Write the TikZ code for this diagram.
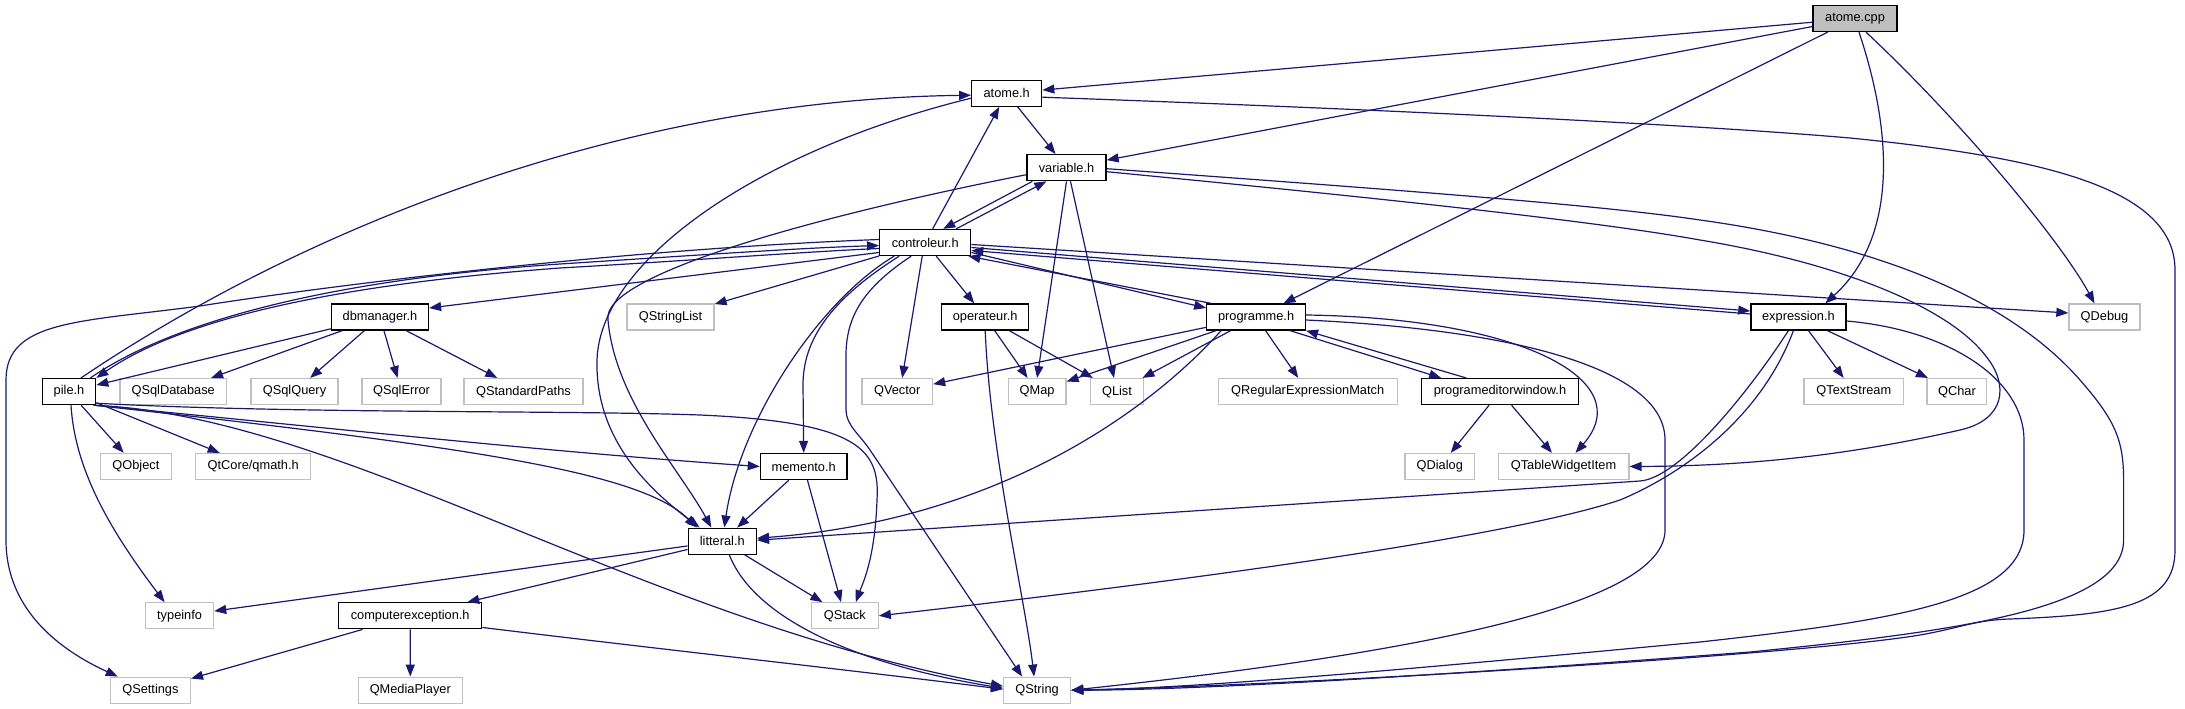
\documentclass[tikz,border=0pt]{standalone}
\usepackage{fontspec}
\setmainfont{Liberation Sans}
\usetikzlibrary{arrows.meta,calc}
\definecolor{edgec}{HTML}{191970}
\definecolor{greyA}{HTML}{BFBFBF}
\begin{document}
\begin{tikzpicture}[x=1pt,y=-1pt,
  box/.style={rectangle, inner sep=0pt, minimum height=26pt, font=\fontsize{12.8}{15}\selectfont, text=black},
  hdr/.style={box, draw=black, fill=white, line width=1.3pt},
  ext/.style={box, draw=greyA, fill=white, line width=1.3pt},
  rootnode/.style={box, draw=black, fill=greyA, line width=1.3pt},
  dep/.style={draw=edgec, line width=1.2pt, -{Triangle[length=12pt,width=9pt]}}
]
\fill[white] (0,0) rectangle (2185,709);
\useasboundingbox (0,0) rectangle (2185,709);

% nodes
\node[rootnode, minimum width=84pt] (cpp) at (1855,18.5) {atome.cpp};
\node[hdr, minimum width=70pt] (atomeh) at (1006.7,93.2) {atome.h};
\node[hdr, minimum width=79pt] (var) at (1066.5,167.7) {variable.h};
\node[hdr, minimum width=91pt] (ctrl) at (925.2,242.5) {controleur.h};
\node[hdr, minimum width=97pt] (db) at (380,317) {dbmanager.h};
\node[ext, minimum width=87pt] (qsl) at (670.5,317) {QStringList};
\node[hdr, minimum width=87pt] (op) at (985.2,317) {operateur.h};
\node[hdr, minimum width=98.6pt] (prog) at (1256.1,317) {programme.h};
\node[hdr, minimum width=95pt] (expr) at (1798.4,317) {expression.h};
\node[ext, minimum width=71pt] (qdebug) at (2104.5,317) {QDebug};
\node[hdr, minimum width=53.4pt] (pile) at (69,391.6) {pile.h};
\node[ext, minimum width=106.5pt] (qsqldb) at (173.2,391.6) {QSqlDatabase};
\node[ext, minimum width=87pt] (qsqlq) at (294.5,391.6) {QSqlQuery};
\node[ext, minimum width=79pt] (qsqle) at (401.5,391.6) {QSqlError};
\node[ext, minimum width=119pt] (qsp) at (523.5,391.6) {QStandardPaths};
\node[ext, minimum width=70.7pt] (qvec) at (897.2,391.6) {QVector};
\node[ext, minimum width=57.8pt] (qmap) at (1037.1,391.6) {QMap};
\node[ext, minimum width=53.2pt] (qlist) at (1117,391.6) {QList};
\node[ext, minimum width=179pt] (qrem) at (1307.7,391.6) {QRegularExpressionMatch};
\node[hdr, minimum width=156.4pt] (pew) at (1500,391.6) {programeditorwindow.h};
\node[ext, minimum width=99.6pt] (qts) at (1853.8,391.6) {QTextStream};
\node[ext, minimum width=59.8pt] (qchar) at (1956.9,391.6) {QChar};
\node[ext, minimum width=71pt] (qobj) at (135.9,466.5) {QObject};
\node[ext, minimum width=115pt] (qmath) at (253.2,466.5) {QtCore/qmath.h};
\node[hdr, minimum width=86.7pt] (mem) at (803.7,466.5) {memento.h};
\node[ext, minimum width=69.6pt] (qdlg) at (1439.8,466.5) {QDialog};
\node[ext, minimum width=130.7pt] (qtwi) at (1563.5,466.5) {QTableWidgetItem};
\node[hdr, minimum width=68.2pt] (lit) at (722.3,541.2) {litteral.h};
\node[ext, minimum width=68pt] (tinfo) at (179.6,615.8) {typeinfo};
\node[hdr, minimum width=143pt] (cex) at (410.2,615.8) {computerexception.h};
\node[ext, minimum width=66.8pt] (qstack) at (844.8,615.8) {QStack};
\node[ext, minimum width=80pt] (qset) at (150.4,690.2) {QSettings};
\node[ext, minimum width=104pt] (qmp) at (410.3,690.2) {QMediaPlayer};
\node[ext, minimum width=67pt] (qstr) at (1037.1,690.2) {QString};

% atome.cpp
\draw[dep] (cpp) -- (atomeh);
\draw[dep] (cpp) -- (var);
\draw[dep] (cpp) -- (prog);
\draw[dep] ($(cpp.south)+(4,0)$) .. controls (1895,140) and (1895,240) .. ($(expr.north)+(27,0)$);
\draw[dep] ($(cpp.south)+(11,0)$) .. controls (1960,120) and (2060,240) .. ($(qdebug.north)+(-10,0)$);

% atome.h
\draw[dep] (atomeh) -- (var);
\draw[dep] ($(atomeh.east)+(0,4)$) .. controls (1400,110) and (1700,125) .. (1850,138) .. controls (2050,158) and (2175,190) .. (2175,270) -- (2175,550) .. controls (2175,605) and (2120,615) .. (2010,619) .. controls (1975,620) and (1960,628) .. (1920,635) .. controls (1800,655) and (1300,685) .. (qstr.east);
\draw[dep] ($(atomeh.west)+(0,5)$) .. controls (760,150) and (600,260) .. (597,360) .. controls (595,440) and (650,490) .. ($(lit.north west)+(12,0)$);

% variable.h
\draw[dep] ($(var.south west)+(6,0)$) -- ($(ctrl.north)+(18,0)$);
\draw[dep] ($(ctrl.north)+(31,0)$) -- ($(var.south west)+(20,0)$);
\draw[dep] (var.south) -- (qmap.north);
\draw[dep] ($(var.south)+(4,0)$) -- ($(qlist.north)+(-3,0)$);
\draw[dep] ($(var.west)+(0,7)$) .. controls (820,215) and (600,275) .. (608,320) .. controls (615,400) and (680,470) .. ($(lit.north)+(-11,0)$);
\draw[dep] ($(var.east)+(0,4)$) .. controls (1400,200) and (1600,222) .. (1700,240) .. controls (1850,265) and (1950,310) .. (1985,355) .. controls (2010,385) and (2005,420) .. (1960,430) .. controls (1850,455) and (1750,466) .. (qtwi.east);
\draw[dep] ($(var.east)+(0,1)$) .. controls (1400,190) and (1600,205) .. (1700,220) .. controls (1880,245) and (2010,300) .. (2080,380) .. controls (2115,420) and (2123.6,440) .. (2123.6,480) -- (2123.6,540) .. controls (2123.6,610) and (1950,632) .. (1750,652) .. controls (1450,675) and (1200,690) .. (qstr.east);

% controleur.h
\draw[dep] (ctrl) -- (atomeh);
\draw[dep] (ctrl) -- (qsl);
\draw[dep] (ctrl) -- (op);
\draw[dep] ($(ctrl.south)+(-3,0)$) -- ($(qvec.north)+(5,0)$);
\draw[dep] ($(ctrl.south)+(-26,0)$) .. controls (830,300) and (803,340) .. (803,385) -- (mem.north);
\draw[dep] ($(ctrl.south)+(-31,0)$) .. controls (820,300) and (740,420) .. ($(lit.north)+(2,0)$);
\draw[dep] ($(ctrl.south)+(-14,0)$) .. controls (860,290) and (845,320) .. (846,360) -- (846,410) .. controls (846,425) and (860,435) .. (870,450) -- ($(qstr.north)+(-15,0)$);
\draw[dep] ($(ctrl.west)+(0,-3)$) .. controls (600,250) and (300,290) .. (200,306) .. controls (80,322) and (6,320) .. (6,380) -- (6,540) .. controls (6,610) and (60,650) .. ($(qset.north west)+(8,0)$);
\draw[dep] ($(pile.north east)+(-6,0)$) .. controls (160,330) and (300,282) .. (560,264) .. controls (700,255) and (800,248) .. ($(ctrl.west)+(0,3)$);
\draw[dep] ($(ctrl.west)+(0,6)$) .. controls (800,252) and (700,260) .. (560,268) .. controls (330,285) and (180,320) .. (pile.north east);
\draw[dep] ($(ctrl.west)+(0,10)$) -- ($(db.east)+(0,-9)$);
\draw[dep] ($(ctrl.east)+(0,2)$) -- ($(qdebug.west)+(0,-4)$);
\draw[dep] ($(ctrl.east)+(0,5)$) -- ($(expr.west)+(0,-6)$);
\draw[dep] ($(expr.west)+(0,-3)$) -- ($(ctrl.east)+(0,8)$);
\draw[dep] ($(ctrl.east)+(0,10)$) -- ($(prog.west)+(0,-9)$);
\draw[dep] ($(prog.north west)+(5,0)$) -- ($(ctrl.south east)+(-3,0)$);

% pile.h
\draw[dep] ($(pile.north)+(12,0)$) .. controls (300,230) and (620,100) .. ($(atomeh.west)+(0,2)$);
\draw[dep] ($(pile.south east)+(-2,0)$) .. controls (450,445) and (640,470) .. ($(lit.north west)+(9,0)$);
\draw[dep] ($(pile.south east)+(-1,0)$) .. controls (350,430) and (550,452) .. (mem.west);
\draw[dep] ($(pile.south east)+(0,-2)$) .. controls (300,414) and (560,410) .. (700,415) .. controls (860,422) and (880,450) .. (877,500) .. controls (875,560) and (862,585) .. ($(qstack.north)+(11,0)$);
\draw[dep] ($(pile.south east)+(-3,0)$) .. controls (340,415) and (640,620) .. ($(qstr.west)+(0,-4)$);
\draw[dep] (pile) -- (qobj);
\draw[dep] (pile) -- (qmath);
\draw[dep] ($(pile.south)+(2,0)$) .. controls (75,470) and (110,530) .. ($(tinfo.north)+(-15,0)$);

% dbmanager.h
\draw[dep] (db) -- (pile);
\draw[dep] (db) -- (qsqldb);
\draw[dep] (db) -- (qsqlq);
\draw[dep] (db) -- (qsqle);
\draw[dep] (db) -- (qsp);

% operateur.h
\draw[dep] (op) -- (qmap);
\draw[dep] (op) -- (qlist);
\draw[dep] (op.south) .. controls (990,450) and (1025,600) .. ($(qstr.north)+(-3,0)$);

% memento.h
\draw[dep] (mem) -- (lit);
\draw[dep] (mem) -- (qstack);

% litteral.h
\draw[dep] (lit) -- (qstack);
\draw[dep] ($(lit.south)+(7,0)$) .. controls (755,620) and (860,665) .. ($(qstr.west)+(0,-2)$);
\draw[dep] (lit) -- (tinfo);
\draw[dep] (lit) -- (cex);

% computerexception.h
\draw[dep] ($(cex.south east)+(0,-2)$) .. controls (650,648) and (850,670) .. ($(qstr.west)+(0,-1)$);
\draw[dep] (cex) -- (qset);
\draw[dep] (cex) -- (qmp);

% programme.h
\draw[dep] (prog) -- (qvec);
\draw[dep] (prog) -- (qmap);
\draw[dep] (prog) -- (qlist);
\draw[dep] (prog) -- (qrem);
\draw[dep] ($(prog.south east)+(-16,0)$) -- ($(pew.north west)+(20,0)$);
\draw[dep] ($(pew.north west)+(45,0)$) -- (prog.south east);
\draw[dep] ($(prog.south)+(-35,0)$) .. controls (1150,410) and (1000,520) .. ($(lit.east)+(0,-3)$);
\draw[dep] ($(prog.east)+(0,-2)$) .. controls (1520,318) and (1640,380) .. ($(qtwi.north)+(12,0)$);
\draw[dep] ($(prog.east)+(0,3)$) .. controls (1520,330) and (1665,370) .. (1665,440) -- (1665,530) .. controls (1665,600) and (1450,650) .. (qstr.east);

% programeditorwindow.h
\draw[dep] (pew) -- (qdlg);
\draw[dep] (pew) -- (qtwi);

% expression.h
\draw[dep] (expr) -- (qts);
\draw[dep] (expr) -- (qchar);
\draw[dep] ($(expr.south)+(-10,0)$) .. controls (1750,390) and (1680,478) .. (1640,481) -- ($(lit.east)+(0,-1)$);
\draw[dep] ($(expr.south)+(-5,0)$) .. controls (1760,420) and (1680,475) .. (1620,500) .. controls (1500,540) and (1150,585) .. (qstack.east);
\draw[dep] ($(expr.east)+(0,4)$) .. controls (1950,330) and (2024,380) .. (2024,440) -- (2024,530) .. controls (2024,600) and (1900,620) .. (1700,642) .. controls (1400,670) and (1200,688) .. (qstr.east);
\end{tikzpicture}
\end{document}
